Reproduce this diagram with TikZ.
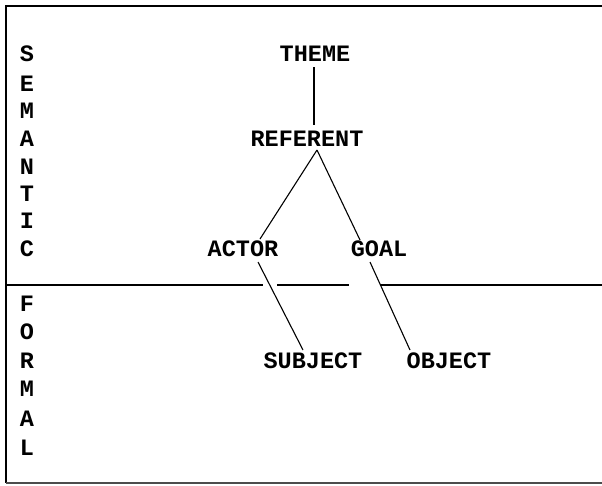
\documentclass[tikz,border=0pt]{standalone}
\usepackage{fontspec}
\setmainfont{Liberation Mono}
\usetikzlibrary{calc}
\tikzset{
  lbl/.style={inner sep=0pt, text height=13pt, text depth=0pt, font=\fontsize{23.5}{25}\selectfont\bfseries},
  con/.style={line width=1.1pt},
  frame/.style={line width=1.3pt},
  divider/.style={line width=1.8pt}
}
\begin{document}
\begin{tikzpicture}[x=1pt,y=-1pt]
\useasboundingbox (0,0) rectangle (602,485);
% frame
\coordinate (tl) at (6,6);
\coordinate (tr) at (602,6);
\coordinate (bl) at (6,483);
\coordinate (br) at (602,483);
\draw[frame] (tr) -- (tl) -- (bl);
\draw[frame, black!70] (bl) -- (br);
% divider
\coordinate (d0) at (6,285);
\coordinate (d1) at (263,285);
\coordinate (d2) at (277,285);
\coordinate (d3) at (349,285);
\coordinate (d4) at (380,285);
\coordinate (d5) at (602,285);
\draw[divider] (d0) -- (d1);
\draw[divider] (d2) -- (d3);
\draw[divider] (d4) -- (d5);
% side letters
\foreach \ch/\yy [count=\i] in {S/55,E/85,M/112,A/140,N/168,T/195,I/222,C/250,F/305,O/333,R/362,M/390,A/420,L/449}
  \node[lbl] (side\i) at (27,\yy) {\ch};
% tree nodes
\node[lbl] (theme) at (315,55) {THEME};
\node[lbl] (referent) at (307,140) {REFERENT};
\node[lbl] (actor) at (243,250) {ACTOR};
\node[lbl] (goal) at (379,250) {GOAL};
\node[lbl] (subject) at (313,362) {SUBJECT};
\node[lbl] (object) at (449,362) {OBJECT};
% connectors
\draw[con] ($(theme.center)+(-1,12)$) -- ($(referent.center)+(7,-15)$);
\draw[con] ($(referent.center)+(10,10)$) -- ($(actor.center)+(17,-11)$);
\draw[con] ($(referent.center)+(10,10)$) -- ($(goal.center)+(-19,-10)$);
\draw[con] ($(actor.center)+(15,12)$) -- ($(subject.center)+(-10,-12)$);
\draw[con] ($(goal.center)+(-9,12)$) -- ($(object.center)+(-39,-12)$);
\end{tikzpicture}
\end{document}
